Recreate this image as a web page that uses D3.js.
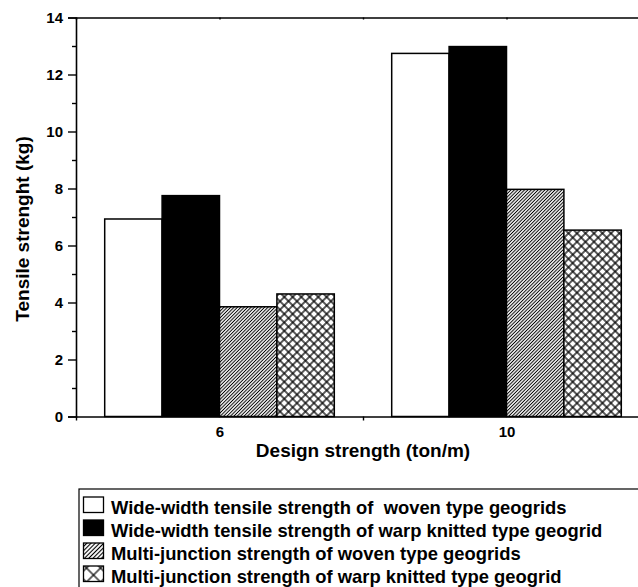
<!DOCTYPE html>
<html>
<head>
<meta charset="utf-8">
<script src="https://cdn.jsdelivr.net/npm/d3@7"></script>
<style>
  html, body { margin: 0; padding: 0; background: #fff; }
  svg { display: block; font-family: "Liberation Sans", Arial, sans-serif; font-weight: bold; }
</style>
</head>
<body>
<svg id="chart" width="638" height="587"></svg>
<script>
// Design strength groups (ton/m)
const designStrength = [6, 10];

// Tensile strength (kg) for each geogrid series
const wovenWideWidth   = [6.93, 12.74];
const knittedWideWidth = [7.75, 12.98];
const wovenJunction    = [3.85, 7.97];
const knittedJunction  = [4.30, 6.54];

const seriesNames = [
  "Wide-width tensile strength of  woven type geogrids",
  "Wide-width tensile strength of warp knitted type geogrid",
  "Multi-junction strength of woven type geogrids",
  "Multi-junction strength of warp knitted type geogrid"
];
const seriesValues = [wovenWideWidth, knittedWideWidth, wovenJunction, knittedJunction];
const seriesFills = ["#fff", "#000", "url(#hatch)", "url(#cross)"];
const legendFills = ["#fff", "#000", "url(#hatchLg)", "url(#crossLg)"];

const yMajorTicks = [0, 2, 4, 6, 8, 10, 12, 14];
const yMinorTicks = [1, 3, 5, 7, 9, 11, 13];
const xMajorTicks = [6, 10];
const xMinorTicks = [4, 8, 12];

const barWidth = 0.8; // in design-strength units
const FONT = "Liberation Sans, Arial, sans-serif";

const svg = d3.select("#chart");
const defs = svg.append("defs");

// Diagonal hatch ("/") or diagonal cross-hatch fill
function diagPattern(id, size, strokeW, cross, ox, oy) {
  const p = defs.append("pattern")
    .attr("id", id)
    .attr("patternUnits", "userSpaceOnUse")
    .attr("width", size).attr("height", size)
    .attr("patternTransform", `translate(${ox || 0},${oy || 0}) rotate(45)`);
  p.append("rect").attr("width", size).attr("height", size).attr("fill", "#fff");
  p.append("line").attr("x1", size / 2).attr("x2", size / 2).attr("y1", -1).attr("y2", size + 1)
    .attr("stroke", "#000").attr("stroke-width", strokeW);
  if (cross) {
    p.append("line").attr("y1", size / 2).attr("y2", size / 2).attr("x1", -1).attr("x2", size + 1)
      .attr("stroke", "#000").attr("stroke-width", strokeW);
  }
}
diagPattern("hatch", 2.4, 1.0, false);
diagPattern("cross", 6.0, 1.3, true);
diagPattern("hatchLg", 3.0, 1.1, false);
diagPattern("crossLg", 10, 1.2, true, 93.5, 568);

const x = d3.scaleLinear().domain([4, 12]).range([76, 650]);
const y = d3.scaleLinear().domain([0, 14]).range([416.5, 17.5]);

// Bars
const bars = svg.append("g");
seriesValues.forEach((vals, s) => {
  bars.selectAll(null)
    .data(designStrength.map((d, i) => ({ d, v: vals[i] })))
    .join("rect")
    .attr("x", p => x(p.d + (s - 2) * barWidth))
    .attr("width", p => x(p.d + (s - 1) * barWidth) - x(p.d + (s - 2) * barWidth))
    .attr("y", p => y(p.v))
    .attr("height", p => y(0) - y(p.v))
    .attr("fill", seriesFills[s])
    .attr("stroke", "#000")
    .attr("stroke-width", 1.5);
});

// Left axis
const yAxis = svg.append("g").attr("transform", `translate(${x(4)},0)`)
  .call(d3.axisLeft(y).tickValues(yMajorTicks).tickSize(8).tickPadding(5).tickFormat(d3.format("d")));
yAxis.selectAll("text").attr("font-size", 15).attr("font-family", FONT).attr("font-weight", "bold").attr("fill", "#000");
svg.append("g").attr("transform", `translate(${x(4)},0)`)
  .call(d3.axisLeft(y).tickValues(yMinorTicks).tickSize(4).tickFormat(""))
  .select(".domain").remove();

// Bottom axis
const xAxis = svg.append("g").attr("transform", `translate(0,${y(0)})`)
  .call(d3.axisBottom(x).tickValues(xMajorTicks).tickSize(0).tickPadding(10).tickFormat(d3.format("d")));
xAxis.selectAll("text").attr("font-size", 15).attr("font-family", FONT).attr("font-weight", "bold").attr("fill", "#000");
svg.append("g").attr("transform", `translate(0,${y(0)})`)
  .call(d3.axisBottom(x).tickValues(xMinorTicks).tickSize(4).tickFormat(""))
  .select(".domain").remove();

// Top axis
svg.append("g").attr("transform", `translate(0,${y(14)})`)
  .call(d3.axisBottom(x).tickValues([6, 8, 10]).tickSize(2).tickFormat(""));

svg.selectAll(".domain").attr("stroke", "#000").attr("stroke-width", 1.6);
svg.selectAll(".tick line").attr("stroke", "#000").attr("stroke-width", 1.4);

// Axis titles
svg.append("text")
  .attr("x", x(8)).attr("y", 457)
  .attr("text-anchor", "middle").attr("font-size", 19)
  .text("Design strength (ton/m)");
svg.append("text")
  .attr("transform", "translate(29,229) rotate(-90)")
  .attr("text-anchor", "middle").attr("font-size", 19)
  .text("Tensile strenght (kg)");

// Legend
const lg = svg.append("g");
lg.append("rect").attr("x", 79).attr("y", 489).attr("width", 600).attr("height", 120)
  .attr("fill", "none").attr("stroke", "#000").attr("stroke-width", 1.2);
seriesNames.forEach((name, i) => {
  const base = 514 + i * 23;
  lg.append("rect").attr("x", 83.5).attr("y", base - 17).attr("width", 20).attr("height", 15.5)
    .attr("fill", legendFills[i]).attr("stroke", "#000").attr("stroke-width", 1.3);
  lg.append("text").attr("x", 111).attr("y", base).attr("font-size", 18.4)
    .style("white-space", "pre")
    .text(name);
});
</script>
</body>
</html>
